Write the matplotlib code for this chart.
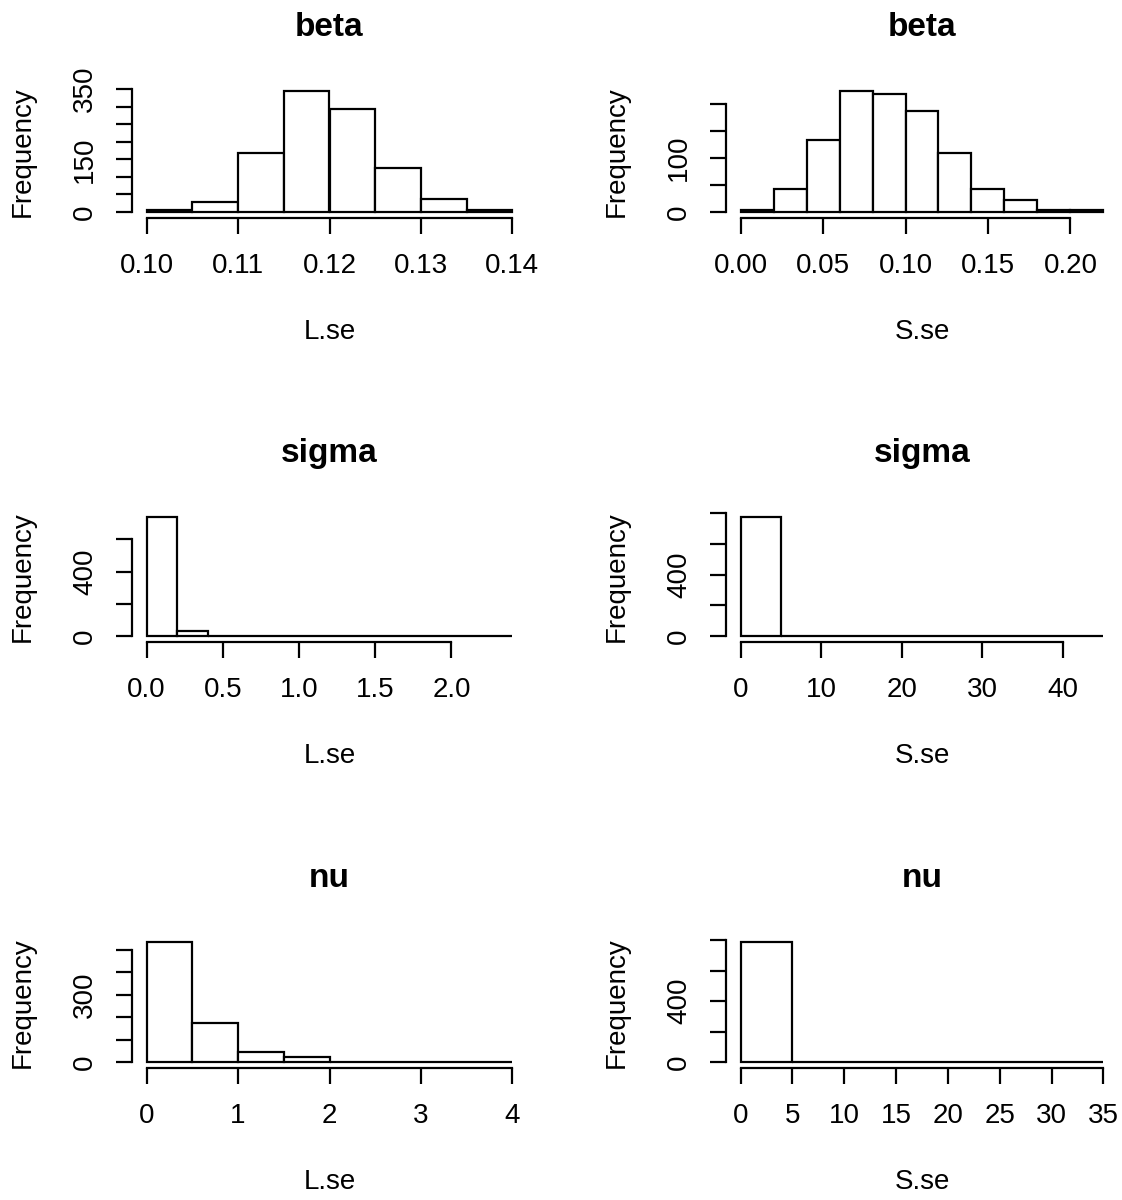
import numpy as np
import matplotlib
matplotlib.use("Agg")
import matplotlib.pyplot as plt

plt.rcParams['font.family'] = ['Liberation Sans', 'DejaVu Sans']

# ---------------- data (counts per bin) ----------------
titles = ["beta", "beta", "sigma", "sigma", "nu", "nu"]
xlabels = ["L.se", "S.se", "L.se", "S.se", "L.se", "S.se"]

beta_L_edges = [0.100, 0.105, 0.110, 0.115, 0.120, 0.125, 0.130, 0.135, 0.140]
beta_L_counts = [6, 29, 168, 345, 292, 125, 38, 5]

beta_S_edges = [0.00, 0.02, 0.04, 0.06, 0.08, 0.10, 0.12, 0.14, 0.16, 0.18, 0.20, 0.22]
beta_S_counts = [4, 42, 133, 224, 219, 186, 109, 42, 22, 3, 3]

sigma_L_edges = [0.0, 0.2, 0.4, 0.6, 0.8, 1.0, 1.2, 1.4, 1.6, 1.8, 2.0, 2.2, 2.4]
sigma_L_counts = [741, 32, 2, 1, 1, 0, 1, 0, 0, 0, 0, 1]

sigma_S_edges = [0, 5, 10, 15, 20, 25, 30, 35, 40, 45]
sigma_S_counts = [778, 1, 0, 0, 0, 0, 0, 0, 1]

nu_L_edges = [0.0, 0.5, 1.0, 1.5, 2.0, 2.5, 3.0, 3.5, 4.0]
nu_L_counts = [535, 173, 44, 23, 2, 1, 0, 1]

nu_S_edges = [0, 5, 10, 15, 20, 25, 30, 35]
nu_S_counts = [789, 1, 0, 0, 0, 0, 1]

# axis ticks and the labels R actually printed
beta_L_xticks = [0.10, 0.11, 0.12, 0.13, 0.14]
beta_L_xticklabels = ["0.10", "0.11", "0.12", "0.13", "0.14"]
beta_L_yticks = [0, 50, 100, 150, 200, 250, 300, 350]
beta_L_yticklabels = ["0", "", "", "150", "", "", "", "350"]

beta_S_xticks = [0.00, 0.05, 0.10, 0.15, 0.20]
beta_S_xticklabels = ["0.00", "0.05", "0.10", "0.15", "0.20"]
beta_S_yticks = [0, 50, 100, 150, 200]
beta_S_yticklabels = ["0", "", "100", "", ""]

sigma_L_xticks = [0.0, 0.5, 1.0, 1.5, 2.0]
sigma_L_xticklabels = ["0.0", "0.5", "1.0", "1.5", "2.0"]
sigma_L_yticks = [0, 200, 400, 600]
sigma_L_yticklabels = ["0", "", "400", ""]

sigma_S_xticks = [0, 10, 20, 30, 40]
sigma_S_xticklabels = ["0", "10", "20", "30", "40"]
sigma_S_yticks = [0, 200, 400, 600, 800]
sigma_S_yticklabels = ["0", "", "400", "", ""]

nu_L_xticks = [0, 1, 2, 3, 4]
nu_L_xticklabels = ["0", "1", "2", "3", "4"]
nu_L_yticks = [0, 100, 200, 300, 400, 500]
nu_L_yticklabels = ["0", "", "", "300", "", ""]

nu_S_xticks = [0, 5, 10, 15, 20, 25, 30, 35]
nu_S_xticklabels = ["0", "5", "10", "15", "20", "25", "30", "35"]
nu_S_yticks = [0, 200, 400, 600, 800]
nu_S_yticklabels = ["0", "", "400", "", ""]

panels = [
    (beta_L_edges, beta_L_counts, beta_L_xticks, beta_L_xticklabels, beta_L_yticks, beta_L_yticklabels),
    (beta_S_edges, beta_S_counts, beta_S_xticks, beta_S_xticklabels, beta_S_yticks, beta_S_yticklabels),
    (sigma_L_edges, sigma_L_counts, sigma_L_xticks, sigma_L_xticklabels, sigma_L_yticks, sigma_L_yticklabels),
    (sigma_S_edges, sigma_S_counts, sigma_S_xticks, sigma_S_xticklabels, sigma_S_yticks, sigma_S_yticklabels),
    (nu_L_edges, nu_L_counts, nu_L_xticks, nu_L_xticklabels, nu_L_yticks, nu_L_yticklabels),
    (nu_S_edges, nu_S_counts, nu_S_xticks, nu_S_xticklabels, nu_S_yticks, nu_S_yticklabels),
]

# ---------------- layout (pixels, measured on the reference) ----------------
W, H = 1122, 1200
col_x = [(132, 527), (726, 1118)]
row_y = [(86, 218), (512, 642), (937, 1068)]

fig = plt.figure(figsize=(W / 100, H / 100), dpi=100)
fig.patch.set_facecolor("white")

LW = 1.6
FS = 20
TFS = 24

for i, (edges, counts, xt, xtl, yt, ytl) in enumerate(panels):
    r, c = divmod(i, 2)
    x0, x1 = col_x[c]
    ytop, ybot = row_y[r]
    ax = fig.add_axes([x0 / W, 1 - ybot / H, (x1 - x0) / W, (ybot - ytop) / H])

    edges = np.asarray(edges, dtype=float)
    counts = np.asarray(counts, dtype=float)
    centers = (edges[:-1] + edges[1:]) / 2
    ax.hist(centers, bins=edges, weights=counts, histtype='bar',
            facecolor='white', edgecolor='black', linewidth=LW)

    xr = edges[-1] - edges[0]
    ax.set_xlim(edges[0] - 0.04 * xr, edges[-1] + 0.04 * xr)
    ymax = counts.max()
    ax.set_ylim(-0.05 * ymax, 1.04 * ymax)

    for s in ['top', 'right']:
        ax.spines[s].set_visible(False)
    ax.spines['bottom'].set_bounds(xt[0], xt[-1])
    ax.spines['left'].set_bounds(yt[0], yt[-1])
    ax.spines['bottom'].set_linewidth(LW)
    ax.spines['left'].set_linewidth(LW)

    ax.set_xticks(xt)
    ax.set_xticklabels(xtl)
    ax.set_yticks(yt)
    ax.set_yticklabels(ytl)
    ax.tick_params(axis='both', direction='out', length=11.5, width=LW,
                   labelsize=FS, colors='black')
    ax.tick_params(axis='x', pad=14)
    ax.tick_params(axis='y', pad=13)
    for lab in ax.get_yticklabels():
        lab.set_rotation(90)
        lab.set_va('center')
        lab.set_ha('right')

    ax.annotate(titles[i], xy=(0.5, 1), xycoords='axes fraction',
                xytext=(0, 42), textcoords='offset points',
                ha='center', va='center', fontsize=TFS, fontweight='bold')
    ax.annotate(xlabels[i], xy=(0.5, 0), xycoords='axes fraction',
                xytext=(0, -82), textcoords='offset points',
                ha='center', va='center', fontsize=FS)
    ax.annotate("Frequency", xy=(0, 0.5), xycoords='axes fraction',
                xytext=(-79, 0), textcoords='offset points',
                ha='center', va='center', fontsize=FS, rotation=90)
    ax.set_facecolor('white')

fig.savefig("out.png", dpi=100, facecolor='white')
